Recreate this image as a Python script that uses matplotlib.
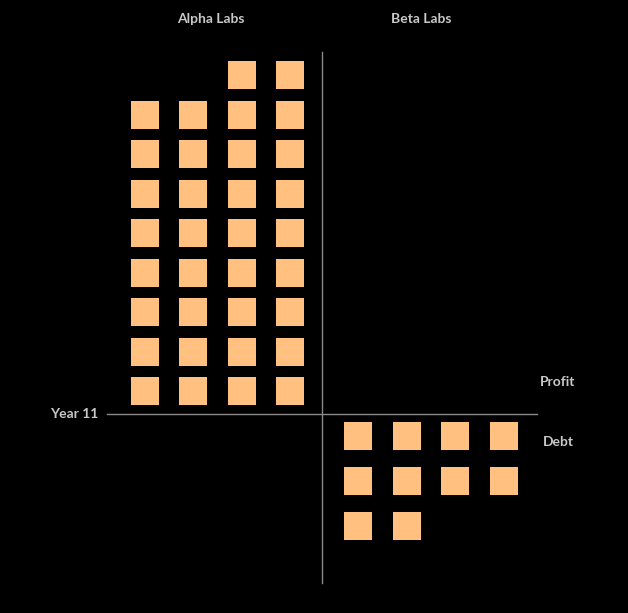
"""Unit chart: profit vs debt squares for two labs at Year 11."""

import matplotlib
matplotlib.use("Agg")
import matplotlib.pyplot as plt

GROUPS = ["Alpha Labs", "Beta Labs"]
ALPHA_PROFIT_UNITS = [8, 8, 9, 9]   # squares per column, above the line
BETA_DEBT_UNITS = [3, 3, 2, 2]      # squares per column, below the line
YEAR_LABEL = "Year 11"
SIDE_LABELS = ["Profit", "Debt"]

SQUARE_COLOR = "#ffc080"
TEXT_COLOR = "#c8c8c8"
LINE_COLOR = "#8a8a8a"
BG = "#000000"

W, H, DPI = 628, 613, 100


def main():
    fig = plt.figure(figsize=(W / DPI, H / DPI), dpi=DPI, facecolor=BG)
    ax = fig.add_axes([0, 0, 1, 1])
    ax.set_facecolor(BG)
    ax.axis("off")

    # 1 x-unit = one column slot, 1 y-unit = one alpha row
    px_x, px_y = 48.5, 39.5
    x0, y0 = 322, 414
    ax.set_xlim(-x0 / px_x, (W - x0) / px_x)
    ax.set_ylim(-(H - y0) / px_y, y0 / px_y)

    msize = (27 * 72 / DPI) ** 2

    xs, ys = [], []
    for ci, n in enumerate(ALPHA_PROFIT_UNITS):
        for k in range(n):
            xs.append(ci - len(ALPHA_PROFIT_UNITS) + 0.35)
            ys.append(0.58 + k)
    beta_step = 45 / px_y
    for ci, n in enumerate(BETA_DEBT_UNITS):
        for k in range(n):
            xs.append(ci + 0.75)
            ys.append(-(0.56 + k * beta_step))
    ax.scatter(xs, ys, s=msize, marker="s", c=SQUARE_COLOR, linewidths=0, zorder=3)

    ax.plot([-215 / px_x, 215 / px_x], [0, 0], color=LINE_COLOR, lw=1, zorder=1)
    ax.plot([0, 0], [-(583 - y0) / px_y, (y0 - 52) / px_y], color=LINE_COLOR, lw=1, zorder=1)

    font = dict(color=TEXT_COLOR, fontsize=10, fontweight="bold", family=["Lato", "DejaVu Sans"])
    fig.text(211 / W, 1 - 19 / H, GROUPS[0], ha="center", va="center", **font)
    fig.text(421 / W, 1 - 19 / H, GROUPS[1], ha="center", va="center", **font)
    fig.text(98 / W, 1 - 414 / H, YEAR_LABEL, ha="right", va="center", **font)
    fig.text(558 / W, 1 - 382 / H, SIDE_LABELS[0], ha="center", va="center", **font)
    fig.text(558 / W, 1 - 442 / H, SIDE_LABELS[1], ha="center", va="center", **font)

    fig.savefig("out.png", dpi=DPI, facecolor=BG)
    plt.close(fig)


if __name__ == "__main__":
    main()
